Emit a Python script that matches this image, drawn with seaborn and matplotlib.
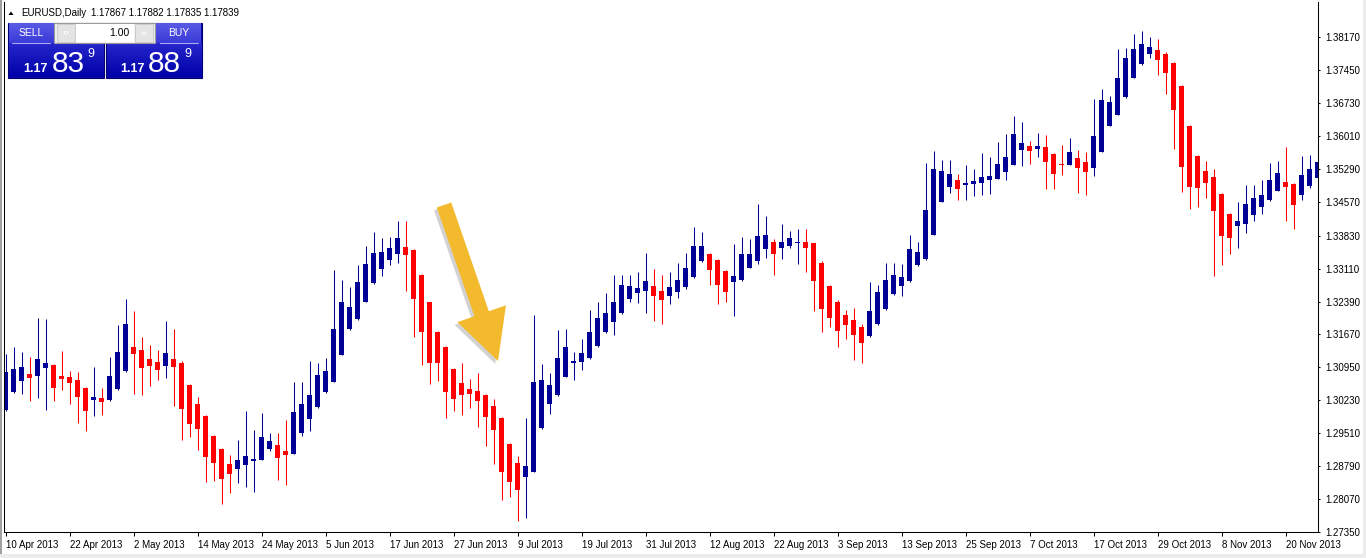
import numpy as np
import pandas as pd
import matplotlib
matplotlib.use('Agg')
import matplotlib.pyplot as plt
import matplotlib.patheffects as pe
from matplotlib.patches import Rectangle, Polygon, FancyArrowPatch
from matplotlib.colors import to_rgb
import seaborn as sns

# EURUSD daily candles, 10 Apr 2013 .. 21 Nov 2013
opens = [1.3002, 1.3041, 1.3065, 1.3080, 1.3076, 1.3093, 1.3100, 1.3076, 1.3074, 1.3067,
         1.3050, 1.3024, 1.3028, 1.3024, 1.3048, 1.3087, 1.3139, 1.3133, 1.3113, 1.3106,
         1.3098, 1.3113, 1.3104, 1.3056, 1.3015, 1.2989, 1.2945, 1.2917, 1.2884, 1.2873,
         1.2882, 1.2891, 1.2893, 1.2917, 1.2925, 1.2912, 1.2906, 1.2952, 1.2982, 1.3008,
         1.3041, 1.3063, 1.3122, 1.3178, 1.3200, 1.3239, 1.3279, 1.3311, 1.3329, 1.3342,
         1.3359, 1.3351, 1.3298, 1.3237, 1.3172, 1.3139, 1.3091, 1.3061, 1.3048, 1.3043,
         1.3034, 1.3010, 1.2984, 1.2928, 1.2886, 1.2856, 1.2867, 1.2962, 1.3015, 1.3034,
         1.3074, 1.3104, 1.3106, 1.3115, 1.3141, 1.3172, 1.3194, 1.3213, 1.3244, 1.3257,
         1.3261, 1.3272, 1.3263, 1.3252, 1.3259, 1.3270, 1.3292, 1.3327, 1.3344, 1.3329,
         1.3305, 1.3281, 1.3285, 1.3313, 1.3327, 1.3353, 1.3370, 1.3357, 1.3361, 1.3368,
         1.3370, 1.3366, 1.3324, 1.3274, 1.3239, 1.3209, 1.3198, 1.3183, 1.3163, 1.3189,
         1.3222, 1.3255, 1.3274, 1.3283, 1.3318, 1.3331, 1.3385, 1.3457, 1.3490, 1.3505,
         1.3494, 1.3497, 1.3499, 1.3505, 1.3507, 1.3523, 1.3538, 1.3571, 1.3579, 1.3573,
         1.3577, 1.3562, 1.3540, 1.3538, 1.3553, 1.3545, 1.3531, 1.3566, 1.3623, 1.3647,
         1.3686, 1.3728, 1.3758, 1.3780, 1.3789, 1.3780, 1.3760, 1.3710, 1.3623, 1.3558,
         1.3525, 1.3512, 1.3475, 1.3431, 1.3405, 1.3409, 1.3429, 1.3446, 1.3460, 1.3481,
         1.3501, 1.3497, 1.3473, 1.3492, 1.3510]
highs = [1.3124, 1.3139, 1.3128, 1.3117, 1.3202, 1.3200, 1.3102, 1.3130, 1.3087, 1.3085,
         1.3052, 1.3095, 1.3050, 1.3117, 1.3187, 1.3244, 1.3218, 1.3161, 1.3143, 1.3133,
         1.3196, 1.3178, 1.3109, 1.3058, 1.3030, 1.2991, 1.2947, 1.2919, 1.2904, 1.2936,
         1.2999, 1.2958, 1.2995, 1.2952, 1.2952, 1.2980, 1.3063, 1.3063, 1.3109, 1.3104,
         1.3115, 1.3307, 1.3285, 1.3270, 1.3318, 1.3361, 1.3392, 1.3377, 1.3381, 1.3416,
         1.3416, 1.3353, 1.3300, 1.3239, 1.3174, 1.3141, 1.3093, 1.3104, 1.3069, 1.3082,
         1.3037, 1.3026, 1.2986, 1.2930, 1.2901, 1.2984, 1.3209, 1.3102, 1.3082, 1.3176,
         1.3178, 1.3128, 1.3157, 1.3220, 1.3239, 1.3257, 1.3296, 1.3298, 1.3296, 1.3303,
         1.3346, 1.3311, 1.3296, 1.3303, 1.3324, 1.3346, 1.3401, 1.3392, 1.3346, 1.3331,
         1.3307, 1.3364, 1.3381, 1.3375, 1.3453, 1.3427, 1.3375, 1.3409, 1.3394, 1.3398,
         1.3398, 1.3368, 1.3327, 1.3276, 1.3242, 1.3220, 1.3224, 1.3189, 1.3281, 1.3276,
         1.3324, 1.3324, 1.3322, 1.3385, 1.3370, 1.3542, 1.3569, 1.3549, 1.3549, 1.3518,
         1.3538, 1.3529, 1.3564, 1.3555, 1.3588, 1.3606, 1.3645, 1.3632, 1.3590, 1.3608,
         1.3603, 1.3564, 1.3582, 1.3597, 1.3571, 1.3566, 1.3682, 1.3704, 1.3688, 1.3791,
         1.3793, 1.3824, 1.3830, 1.3817, 1.3813, 1.3784, 1.3763, 1.3712, 1.3625, 1.3560,
         1.3547, 1.3529, 1.3477, 1.3433, 1.3457, 1.3494, 1.3494, 1.3505, 1.3542, 1.3547,
         1.3577, 1.3499, 1.3558, 1.3560, 1.3575]
lows = [1.3000, 1.3040, 1.3037, 1.3021, 1.3028, 1.3002, 1.3021, 1.3045, 1.3015, 1.2973,
        1.2956, 1.2989, 1.2991, 1.3022, 1.3046, 1.3085, 1.3037, 1.3034, 1.3054, 1.3067,
        1.3071, 1.3010, 1.2936, 1.2943, 1.2915, 1.2845, 1.2847, 1.2797, 1.2821, 1.2843,
        1.2834, 1.2823, 1.2892, 1.2912, 1.2849, 1.2838, 1.2905, 1.2945, 1.2956, 1.3007,
        1.3040, 1.3062, 1.3121, 1.3176, 1.3199, 1.3238, 1.3278, 1.3294, 1.3318, 1.3324,
        1.3261, 1.3161, 1.3100, 1.3058, 1.3065, 1.2984, 1.2999, 1.2991, 1.3006, 1.2965,
        1.2923, 1.2884, 1.2806, 1.2812, 1.2758, 1.2766, 1.2866, 1.2961, 1.2993, 1.3033,
        1.3073, 1.3067, 1.3089, 1.3114, 1.3140, 1.3171, 1.3165, 1.3212, 1.3239, 1.3235,
        1.3213, 1.3196, 1.3189, 1.3233, 1.3246, 1.3266, 1.3291, 1.3326, 1.3276, 1.3233,
        1.3239, 1.3207, 1.3284, 1.3312, 1.3322, 1.3335, 1.3298, 1.3333, 1.3355, 1.3322,
        1.3303, 1.3218, 1.3172, 1.3183, 1.3139, 1.3157, 1.3111, 1.3104, 1.3162, 1.3188,
        1.3221, 1.3254, 1.3252, 1.3282, 1.3317, 1.3330, 1.3384, 1.3456, 1.3477, 1.3462,
        1.3460, 1.3470, 1.3473, 1.3475, 1.3506, 1.3505, 1.3537, 1.3536, 1.3540, 1.3555,
        1.3484, 1.3486, 1.3516, 1.3537, 1.3477, 1.3473, 1.3514, 1.3565, 1.3622, 1.3646,
        1.3685, 1.3727, 1.3757, 1.3771, 1.3734, 1.3693, 1.3573, 1.3479, 1.3442, 1.3446,
        1.3466, 1.3294, 1.3318, 1.3344, 1.3357, 1.3388, 1.3416, 1.3431, 1.3459, 1.3480,
        1.3414, 1.3398, 1.3460, 1.3488, 1.3509]
closes = [1.3085, 1.3091, 1.3095, 1.3071, 1.3113, 1.3104, 1.3050, 1.3069, 1.3061, 1.3030,
          1.2999, 1.3030, 1.3019, 1.3076, 1.3128, 1.3189, 1.3124, 1.3093, 1.3098, 1.3089,
          1.3126, 1.3095, 1.3004, 1.2971, 1.2960, 1.2899, 1.2886, 1.2851, 1.2862, 1.2893,
          1.2901, 1.2895, 1.2943, 1.2934, 1.2897, 1.2904, 1.2997, 1.3015, 1.3034, 1.3078,
          1.3087, 1.3180, 1.3237, 1.3226, 1.3281, 1.3320, 1.3346, 1.3348, 1.3355, 1.3377,
          1.3340, 1.3244, 1.3172, 1.3104, 1.3104, 1.3041, 1.3026, 1.3034, 1.3037, 1.3021,
          1.2986, 1.2958, 1.2867, 1.2845, 1.2827, 1.2880, 1.3063, 1.3067, 1.3056, 1.3115,
          1.3139, 1.3109, 1.3126, 1.3172, 1.3204, 1.3215, 1.3237, 1.3276, 1.3272, 1.3268,
          1.3283, 1.3252, 1.3242, 1.3270, 1.3285, 1.3313, 1.3361, 1.3361, 1.3309, 1.3276,
          1.3259, 1.3294, 1.3342, 1.3342, 1.3383, 1.3385, 1.3344, 1.3370, 1.3377, 1.3370,
          1.3357, 1.3283, 1.3222, 1.3202, 1.3174, 1.3187, 1.3165, 1.3148, 1.3218, 1.3259,
          1.3287, 1.3298, 1.3292, 1.3353, 1.3348, 1.3440, 1.3529, 1.3525, 1.3518, 1.3486,
          1.3499, 1.3503, 1.3512, 1.3514, 1.3540, 1.3555, 1.3606, 1.3586, 1.3569, 1.3579,
          1.3545, 1.3518, 1.3538, 1.3566, 1.3531, 1.3523, 1.3601, 1.3680, 1.3675, 1.3728,
          1.3771, 1.3791, 1.3802, 1.3795, 1.3767, 1.3739, 1.3658, 1.3534, 1.3490, 1.3488,
          1.3499, 1.3438, 1.3383, 1.3379, 1.3414, 1.3453, 1.3466, 1.3473, 1.3505, 1.3521,
          1.3490, 1.3451, 1.3516, 1.3529, 1.3545]

date_labels = ['10 Apr 2013', '22 Apr 2013', '2 May 2013', '14 May 2013', '24 May 2013',
               '5 Jun 2013', '17 Jun 2013', '27 Jun 2013', '9 Jul 2013', '19 Jul 2013',
               '31 Jul 2013', '12 Aug 2013', '22 Aug 2013', '3 Sep 2013', '13 Sep 2013',
               '25 Sep 2013', '7 Oct 2013', '17 Oct 2013', '29 Oct 2013', '8 Nov 2013',
               '20 Nov 2013']
date_every = 8
price_ticks = [1.38170, 1.37450, 1.36730, 1.36010, 1.35290, 1.34570, 1.33830, 1.33110,
               1.32390, 1.31670, 1.30950, 1.30230, 1.29510, 1.28790, 1.28070, 1.27350]

symbol = 'EURUSD,Daily'
last_ohlc = '1.17867 1.17882 1.17835 1.17839'
lot = '1.00'
bid = ('1.17', '83', '9')
ask = ('1.17', '88', '9')

df = pd.DataFrame({'open': opens, 'high': highs, 'low': lows, 'close': closes})
df['bar'] = np.arange(len(df))
df['bull'] = df['close'] >= df['open']

sns.set_style('white')
plt.rcParams['font.family'] = ['Liberation Sans', 'DejaVu Sans']

W, H = 1366, 558
fig = plt.figure(figsize=(W / 100, H / 100), dpi=100)
ax = fig.add_axes([4 / W, 26 / H, 1314 / W, 530 / H])

bull_col = '#000096'
bear_col = '#ff0000'
cols = np.where(df['bull'], bull_col, bear_col)

# wicks + bodies
ax.vlines(df['bar'], df['low'], df['high'], colors=cols, linewidth=0.75)
body_lo = df[['open', 'close']].min(axis=1)
body_h = (df['open'] - df['close']).abs().clip(lower=0.00022)
ax.bar(df['bar'], body_h, bottom=body_lo, width=0.625, color=cols, linewidth=0)

# 8 px per bar, first bar 1.5 px right of the left edge
ax.set_xlim(-0.1875, -0.1875 + 1314 / 8)
ax.set_ylim(1.2735, 1.3894)

ax.yaxis.tick_right()
ax.set_yticks(price_ticks)
ax.set_yticklabels([f'{v:.5f}' for v in price_ticks])
ax.set_xticks(np.arange(0, len(df), date_every)[:len(date_labels)])
ax.set_xticklabels(date_labels)
for lbl in ax.get_xticklabels():
    lbl.set_horizontalalignment('left')
ax.tick_params(axis='y', right=True, left=False, direction='out', length=1.6,
               width=0.75, labelsize=7, pad=3.5, colors='black')
ax.tick_params(axis='x', bottom=True, direction='out', length=3, width=0.75,
               labelsize=7, pad=3, colors='black')
ax.set_xlabel('')
ax.set_ylabel('')
sns.despine(ax=ax, top=True, right=False, left=False, bottom=False)
for s in ['left', 'right', 'bottom']:
    ax.spines[s].set_color('black')
    ax.spines[s].set_linewidth(0.75)

# overlay in pixel coordinates for the terminal decorations
ui = fig.add_axes([0, 0, 1, 1], zorder=5)
ui.set_xlim(0, W)
ui.set_ylim(H, 0)
ui.axis('off')


def gradient_box(x0, y0, x1, y1, top, bottom, z=6):
    img = np.linspace(to_rgb(top), to_rgb(bottom), 40)[:, None, :]
    ui.imshow(img, extent=(x0, x1, y1, y0), aspect='auto', zorder=z,
              interpolation='bilinear')


# window frame
ui.add_patch(Rectangle((0, 0), 2, H, fc='#a0a0a0', ec='none', zorder=4))
ui.add_patch(Rectangle((1363, 0), 3, H, fc='#ececec', ec='none', zorder=4))
ui.add_patch(Rectangle((0, 554), W, 4, fc='#ececec', ec='none', zorder=4))

# header
ui.add_patch(Polygon([(8.5, 15), (13.5, 15), (11, 11.5)], closed=True, fc='black', ec='none'))
ui.text(21, 13, symbol, fontsize=7, va='center', ha='left', color='black')
ui.text(91, 13, last_ohlc, fontsize=7, va='center', ha='left', color='black')

# one-click trading panel
for x0 in (8, 106):
    ui.add_patch(Rectangle((x0, 22.5), 95.5, 55, fc='#0c0cb0', ec='#00006e', lw=0.8, zorder=5))
    gradient_box(x0 + 0.5, 43.5, x0 + 95, 77, '#2626cc', '#0000a8')
for x0, x1, txt in ((8.5, 53.5, 'SELL'), (156, 201, 'BUY')):
    gradient_box(x0, 23, x1, 43, '#5a5ae6', '#3a3ad8')
    ui.plot([x0 + 3.5, x1 - 3.5], [42.8, 42.8], color='#a8a8f4', lw=0.8, zorder=7)
    ui.text((x0 + x1) / 2, 32.5, txt, fontsize=7.5, color='white', ha='center',
            va='center', zorder=8)
ui.add_patch(Rectangle((54.3, 22.7), 100.7, 20.6, fc='#f0f0f0', ec='#9a9a9a', lw=0.8, zorder=7))
ui.add_patch(Rectangle((56.7, 24.3), 18.3, 17.4, fc='#e4e4e4', ec='#c8c8c8', lw=0.6, zorder=8))
ui.add_patch(Rectangle((135, 24.3), 18.3, 17.4, fc='#e4e4e4', ec='#c8c8c8', lw=0.6, zorder=8))
ui.add_patch(Rectangle((76, 24), 57.5, 18, fc='white', ec='none', zorder=8))
ui.add_patch(Polygon([(64, 32), (68, 32), (66, 34.5)], closed=True, fc='black', zorder=9))
ui.add_patch(Polygon([(142, 34), (146, 34), (144, 31.5)], closed=True, fc='black', zorder=9))
ui.text(129.5, 32.5, lot, fontsize=7.5, ha='right', va='center', color='black', zorder=9)

for x_small, x_big, x_sup, (small, big, sup) in ((23.5, 51.5, 87, bid), (120.5, 148, 184, ask)):
    ui.text(x_small, 71.7, small, fontsize=9, color='white', ha='left', va='baseline',
            fontweight='bold', zorder=9)
    ui.text(x_big, 71.7, big, fontsize=21.5, color='white', ha='left', va='baseline', zorder=9)
    ui.text(x_sup, 56.7, sup, fontsize=9, color='white', ha='left', va='baseline', zorder=9)

# yellow arrow
arrow = FancyArrowPatch((444, 205), (498, 361), mutation_scale=1, shrinkA=0, shrinkB=0,
                        arrowstyle='simple,head_length=36,head_width=37,tail_width=11',
                        fc='#f2ba2c', ec='none', zorder=10)
arrow.set_path_effects([pe.SimplePatchShadow(offset=(-2, -2), shadow_rgbFace='#808080', alpha=0.35),
                        pe.Normal()])
ui.add_patch(arrow)
ui.set_xlim(0, W)
ui.set_ylim(H, 0)

fig.savefig('out.png', dpi=100, facecolor='white')
